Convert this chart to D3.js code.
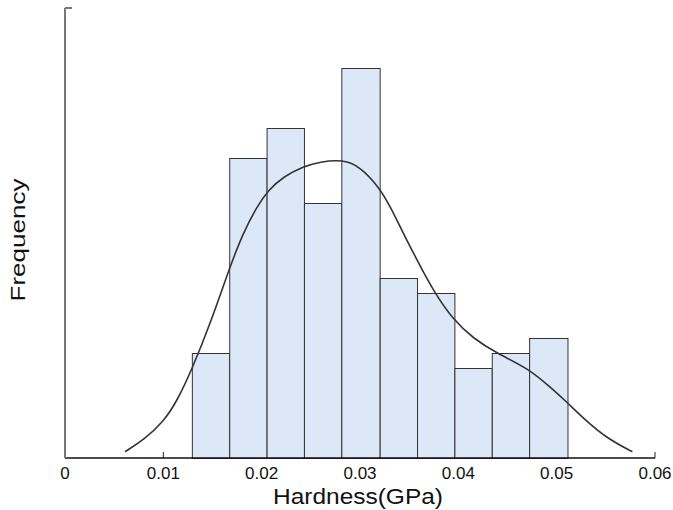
<!DOCTYPE html>
<html>
<head>
<meta charset="utf-8">
<script src="https://cdn.jsdelivr.net/npm/d3@7"></script>
<style>
  body { margin: 0; background: #fff; }
  text { font-family: "Liberation Sans", Arial, sans-serif; }
</style>
</head>
<body>
<div id="chart"></div>
<script>
// histogram bins (GPa) and counts
let binEdges = [0.0129, 0.0167, 0.0205, 0.0243, 0.0281, 0.0320, 0.0358, 0.0396, 0.0434, 0.0472, 0.0511];
let counts = [7, 20, 22, 17, 26, 12, 11, 6, 7, 8];

// density curve (already scaled to counts)
let curveX = [0.0061, 0.0080, 0.0100, 0.0114, 0.0129, 0.0148, 0.0168, 0.0181, 0.0195, 0.0207, 0.0222, 0.0242,
              0.0259, 0.0283, 0.0300, 0.0319, 0.0331, 0.0344, 0.0358, 0.0375, 0.0395, 0.0415, 0.0439, 0.0471,
              0.0493, 0.0510, 0.0527, 0.0551, 0.0577];
let curveY = [0.42, 1.2, 2.4, 3.8, 5.9, 9.0, 12.8, 14.98, 16.75, 17.87, 18.75, 19.42,
              19.75, 19.9, 19.42, 18.09, 16.75, 14.98, 13.2, 11.09, 9.2, 7.98, 6.98, 5.98,
              4.75, 3.75, 2.65, 1.31, 0.42];

let xTicks = [0, 0.01, 0.02, 0.03, 0.04, 0.05, 0.06];

let w = 673, h = 510;
let m = {top: 8, right: 18, bottom: 52, left: 65};

let svg = d3.select("#chart")
    .append("svg")
    .attr("width", w)
    .attr("height", h);

let x = d3.scaleLinear().domain([0, 0.06]).range([m.left, w - m.right]);
let y = d3.scaleLinear().domain([0, 30]).range([h - m.bottom, m.top]);

// ticks first, bars cover them
svg.append("g")
    .selectAll("line")
    .data(xTicks)
    .enter()
    .append("line")
    .attr("x1", d => x(d))
    .attr("x2", d => x(d))
    .attr("y1", y(0))
    .attr("y2", y(0) - 6)
    .attr("stroke", "#222")
    .attr("stroke-width", 1);

let bins = counts.map((c, i) => ({x0: binEdges[i], x1: binEdges[i + 1], n: c}));

svg.append("g")
    .selectAll("rect")
    .data(bins)
    .enter()
    .append("rect")
    .attr("x", d => x(d.x0) + 0.5)
    .attr("y", d => y(d.n) + 0.5)
    .attr("width", d => x(d.x1) - x(d.x0))
    .attr("height", d => y(0) - y(d.n))
    .attr("fill", "#dce8f8")
    .attr("stroke", "#333")
    .attr("stroke-width", 1);

// axes
svg.append("line")
    .attr("x1", x(0)).attr("x2", x(0.06))
    .attr("y1", y(0)).attr("y2", y(0))
    .attr("stroke", "#111").attr("stroke-width", 1.5);

svg.append("line")
    .attr("x1", x(0)).attr("x2", x(0))
    .attr("y1", y(0)).attr("y2", y(30))
    .attr("stroke", "#777").attr("stroke-width", 2);

svg.append("line")
    .attr("x1", x(0)).attr("x2", x(0) + 7)
    .attr("y1", y(30)).attr("y2", y(30))
    .attr("stroke", "#777").attr("stroke-width", 2);

// density curve
let pts = curveX.map((v, i) => [v, curveY[i]]);
let line = d3.line()
    .x(d => x(d[0]))
    .y(d => y(d[1]))
    .curve(d3.curveBasis);

svg.append("path")
    .datum(pts)
    .attr("d", line)
    .attr("fill", "none")
    .attr("stroke", "#333")
    .attr("stroke-width", 1.6);

// tick labels
svg.append("g")
    .selectAll("text")
    .data(xTicks)
    .enter()
    .append("text")
    .attr("x", d => x(d))
    .attr("y", 479)
    .attr("text-anchor", "middle")
    .attr("font-size", 17)
    .attr("fill", "#111")
    .text(d => d === 0 ? "0" : d.toFixed(2));

svg.append("text")
    .attr("x", 358)
    .attr("y", 504)
    .attr("text-anchor", "middle")
    .attr("font-size", 22)
    .attr("textLength", 170)
    .attr("lengthAdjust", "spacingAndGlyphs")
    .attr("fill", "#111")
    .text("Hardness(GPa)");

svg.append("text")
    .attr("transform", "translate(25,240) rotate(-90)")
    .attr("text-anchor", "middle")
    .attr("font-size", 20)
    .attr("textLength", 123)
    .attr("lengthAdjust", "spacingAndGlyphs")
    .attr("fill", "#111")
    .text("Frequency");
</script>
</body>
</html>
